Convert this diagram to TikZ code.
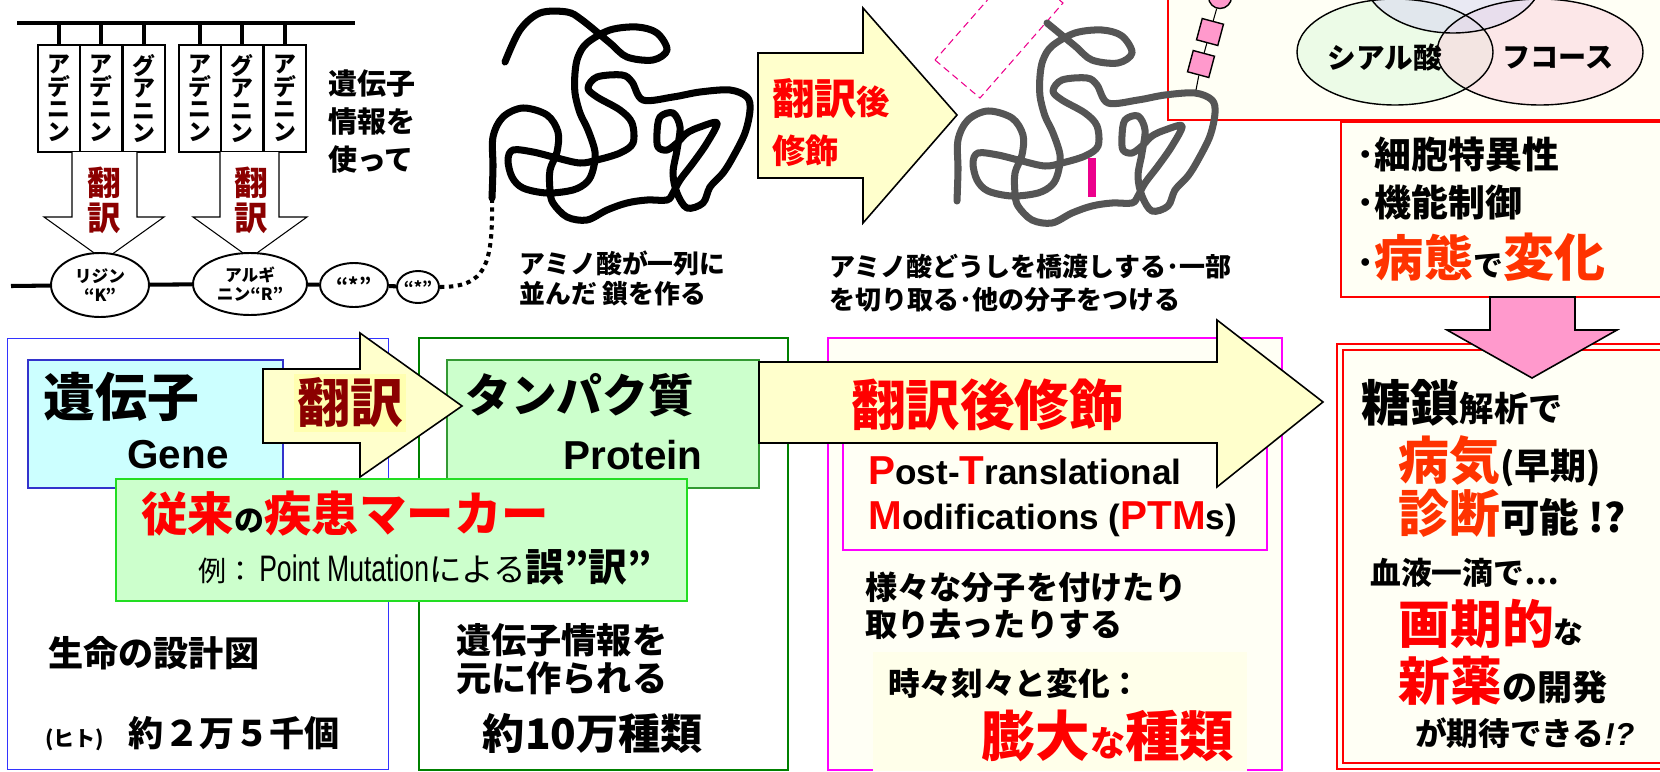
\documentclass[tikz,border=0pt]{standalone}
\usepackage{fontspec}
\setmainfont{Noto Sans CJK JP}
\newfontfamily\latinfont{Liberation Sans}
\newfontfamily\narrowfont[FakeStretch=0.72]{Liberation Sans}
\usetikzlibrary{shapes.geometric,positioning,calc}

\definecolor{arrowyellow}{HTML}{FFFFCC}
\definecolor{labelyellow}{HTML}{FFFFB0}
\definecolor{genefill}{HTML}{CCFFFF}
\definecolor{genedraw}{HTML}{3333CC}
\definecolor{geneouter}{HTML}{3333FF}
\definecolor{protfill}{HTML}{CCFFCC}
\definecolor{protdraw}{HTML}{339933}
\definecolor{protouter}{HTML}{008000}
\definecolor{markerdraw}{HTML}{22DD22}
\definecolor{ptmdraw}{HTML}{FF00FF}
\definecolor{cream}{HTML}{FFFFF5}
\definecolor{hugefill}{HTML}{FFFFEA}
\definecolor{glycan}{HTML}{FF99CC}
\definecolor{darkred}{HTML}{8B0000}
\definecolor{hotred}{HTML}{FF0000}
\definecolor{orangered}{HTML}{FF3300}
\definecolor{chaingray}{HTML}{555555}
\definecolor{mintfill}{HTML}{DDF8DD}
\definecolor{pinkfill}{HTML}{FAD4DE}
\definecolor{lilacfill}{HTML}{D8D8F2}

\newcommand{\fsz}[2]{\fontsize{#1pt}{#2pt}\selectfont}
\newcommand{\aden}{ア\\デ\\ニ\\ン}
\newcommand{\guan}{グ\\ア\\ニ\\ン}

% folded chain, whole
\newcommand{\chainfull}{plot[smooth, tension=0.55] coordinates {
  (492,198) (493,167) (493,137) (503,117) (523,108) (547,115) (558,132)
  (557,152) (550,170) (550,190) (553,203) (567,217) (587,220) (607,210)
  (627,203) (647,200) (667,200) (673,193) (680,180) (693,163) (707,143)
  (717,123) (700,127) (687,133) (677,143) (667,150) (658,147) (657,133)
  (660,117) (673,113) (680,127) (677,150) (673,173) (677,193) (687,208)
  (703,203) (710,187) (723,173) (733,157) (745,133) (750,110) (747,97)
  (730,90) (700,92) (673,97) (643,100) (632,82) (622,75) (597,77) (588,88)
  (597,97) (620,110) (632,123) (633,143) (620,153) (597,160) (580,163)
  (557,158) (533,152) (513,150) (508,160) (512,177) (523,188) (547,193)
  (573,190) (587,182) (593,170) (595,152) (588,130) (580,113) (575,93)
  (575,73) (578,57) (587,43) (610,30) (637,27) (657,33) (667,50) (653,60)
  (627,57) (610,43) (582,20) (567,12) (540,13) (520,30) (505,62)}}
% folded chain, end cut off
\newcommand{\chainbody}{plot[smooth, tension=0.55] coordinates {
  (492,198) (493,167) (493,137) (503,117) (523,108) (547,115) (558,132)
  (557,152) (550,170) (550,190) (553,203) (567,217) (587,220) (607,210)
  (627,203) (647,200) (667,200) (673,193) (680,180) (693,163) (707,143)
  (717,123) (700,127) (687,133) (677,143) (667,150) (658,147) (657,133)
  (660,117) (673,113) (680,127) (677,150) (673,173) (677,193) (687,208)
  (703,203) (710,187) (723,173) (733,157) (745,133) (750,110) (747,97)
  (730,90) (700,92) (673,97) (643,100) (632,82) (622,75) (597,77) (588,88)
  (597,97) (620,110) (632,123) (633,143) (620,153) (597,160) (580,163)
  (557,158) (533,152) (513,150) (508,160) (512,177) (523,188) (547,193)
  (573,190) (587,182) (593,170) (595,152) (588,130) (580,113) (575,93)
  (575,73) (578,57) (587,43) (610,30) (637,27) (657,33) (667,50) (653,60)
  (627,57) (610,43) (582,20)}}

\begin{document}
\begin{tikzpicture}[x=0.02cm, y=-0.02cm,
    cell/.style={rectangle, draw, fill=white, line width=0.6pt, minimum width=0.84cm, minimum height=2.14cm, inner sep=0pt, align=center, font=\bfseries\fsz{13}{12.8}},
    residue/.style={ellipse, draw, fill=white, line width=1.1pt, inner sep=0pt, align=center, font=\bfseries\fsz{9.5}{11}},
    downarrow/.style={draw, fill=white, line width=0.6pt},
    blockarrow/.style={draw, fill=arrowyellow, line width=0.9pt, line join=miter},
    chainline/.style={line width=4pt, line cap=round, line join=round},
    box/.style={rectangle, inner sep=0pt},
    redbox/.style={box, draw=hotred, fill=cream, line width=1.1pt},
    venn/.style={ellipse, fill opacity=0.55, inner sep=0pt},
    sugar/.style={rectangle, draw, fill=glycan, line width=0.8pt, minimum size=0.44cm, inner sep=0pt},
    txt/.style={anchor=west, inner sep=0pt, font=\bfseries},
    btxt/.style={anchor=base west, inner sep=0pt, font=\bfseries}
]
\useasboundingbox (0,0) rectangle (1660,771);

% Glycan sets
\node[redbox, minimum width=10.24cm, minimum height=2.8cm] (vennBox) at (1424,50) {};
\node[venn, fill=mintfill, minimum width=3.92cm, minimum height=2.12cm] (sialicSet) at (1395,52) {};
\node[venn, fill=pinkfill, minimum width=4.12cm, minimum height=2.12cm] (fucoseSet) at (1540,52) {};
\node[venn, fill=lilacfill, minimum width=3.6cm, minimum height=2.32cm] (topSet) at (1453,-25) {};
\draw[line width=0.8pt] (sialicSet.center) ellipse [x radius=98, y radius=53];
\draw[line width=0.8pt] (fucoseSet.center) ellipse [x radius=103, y radius=53];
\draw[line width=0.8pt] (topSet.center) ellipse [x radius=90, y radius=58];
\node[font=\bfseries\fsz{16.3}{16.3}] (sialic) at (1385,58) {シアル酸};
\node[font=\bfseries\fsz{16}{16}] (fucose) at (1558,58) {フコース};

% Traits
\node[redbox, minimum width=6.78cm, minimum height=3.5cm] (traitBox) at (1510.5,209.5) {};
\node[txt, font=\bfseries\fsz{21}{21}] (cellSpec) at (1356,155) {･細胞特異性};
\node[txt, font=\bfseries\fsz{21}{21}] (funcCtl) at (1356,202) {･機能制御};
\node[btxt] (disease) at (1356,276) {\fsz{21}{21}･\textcolor{orangered}{\fsz{28}{28}病態}\fsz{17}{17}で\textcolor{orangered}{\fsz{29}{29}変化}};

% Chains
\draw[chainline] \chainfull;
\draw[magenta, line width=0.6pt, dash pattern=on 4pt off 2.5pt] (935,60) -- (980,98) -- (1063,3) -- (1018,-35) -- cycle;
\draw[chainline, draw=chaingray, shift={(465,3)}] \chainbody;
\coordinate (link1) at (1092,158);
\coordinate (link2) at (1092,197);
\draw[magenta, line width=4.5pt] (link1) -- (link2);
\coordinate (glyStem) at (1196,90);
\node[sugar, rotate=-15] (glySq1) at (1201,64) {};
\node[sugar, rotate=-15] (glySq2) at (1210,32) {};
\node[sugar, circle, minimum size=0.46cm] (glyCirc) at (1220,-3) {};
\draw[line width=0.6pt] (glyStem) -- (glySq1) -- (glySq2) -- (glyCirc);

% Codons
\coordinate (barL) at (17,23);
\coordinate (barR) at (355,23);
\draw[line width=2.3pt] (barL) -- (barR);
\foreach \x/\base [count=\i] in {59/\aden, 101/\aden, 144/\guan, 200/\aden, 242/\guan, 285/\aden} {
  \node[cell] (c\i) at (\x,98.5) {\base};
  \draw[line width=2pt] (c\i.north) -- (c\i.north |- barL);
}

% Translation arrows
\draw[downarrow] (72,152) -- (72,217) -- (44,217) -- (104,260) -- (164,217) -- (137,217) -- (137,152);
\draw[downarrow] (220,152) -- (220,217) -- (193,217) -- (250,258) -- (307,217) -- (279,217) -- (279,152);
\node[align=center, text=darkred, font=\bfseries\fsz{19}{19.8}] (trans1) at (104,200) {翻\\訳};
\node[align=center, text=darkred, font=\bfseries\fsz{19}{19.8}] (trans2) at (251,200) {翻\\訳};

% Residues
\node[residue, minimum width=1.96cm, minimum height=1.28cm] (k) at (100,285) {リジン\\“K”};
\node[residue, minimum width=2.28cm, minimum height=1.24cm] (r) at (250,284) {アルギ\\ニン“R”};
\node[residue, minimum width=1.36cm, minimum height=0.88cm, font=\bfseries\fsz{11}{11}] (s1) at (354,285) {“*”};
\node[residue, minimum width=0.84cm, minimum height=0.64cm, font=\bfseries\fsz{9}{9}] (s2) at (418,287) {“*”};
\coordinate (pepL) at (11,286);
\coordinate (chainA) at (492,198);
\draw[line width=2.3pt] (pepL) -- (k) -- (r) -- (s1) -- (s2);
\draw[line width=2.3pt, dash pattern=on 2.5pt off 2.6pt] (s2.east) .. controls (486,287) and (493,265) .. (chainA);

\node[txt, align=left, font=\bfseries\fsz{16.5}{21.8}] (useInfo) at (328,121.5) {遺伝子\\情報を\\使って};
\node[txt, align=left, font=\bfseries\fsz{14.7}{17}] (chainText) at (519,278) {アミノ酸が一列に\\並んだ 鎖を作る};
\node[txt, align=left, font=\bfseries\fsz{14.8}{18.7}] (modText) at (829,283) {アミノ酸どうしを橋渡しする･一部\\を切り取る･他の分子をつける};

% Modification arrow (top)
\draw[blockarrow] (758,53) -- (863,53) -- (863,8) -- (957,115) -- (863,223) -- (863,178) -- (758,178) -- cycle;
\node[btxt, text=hotred] (ptmTop1) at (772,114) {\fsz{24}{24}翻訳\fsz{19}{19}後};
\node[btxt, text=hotred] (ptmTop2) at (772,163) {\fsz{19}{19}修飾};

% Panels
\node[box, draw=geneouter, line width=0.6pt, minimum width=7.64cm, minimum height=8.64cm] (geneOuter) at (198,554) {};
\node[box, draw=protouter, line width=1.3pt, minimum width=7.38cm, minimum height=8.64cm] (protOuter) at (603.5,554) {};
\node[box, draw=ptmdraw, fill=cream, line width=1.3pt, minimum width=9.08cm, minimum height=8.64cm] (ptmOuter) at (1055,554) {};
\node[redbox, line width=1.6pt, minimum width=6.86cm, minimum height=8.5cm] (hopeOuter) at (1508.5,556.5) {};
\node[box, draw=hotred, line width=1.1pt, minimum width=6.74cm, minimum height=8.26cm] (hopeInner) at (1511.5,556.5) {};
\node[box, fill=hugefill, minimum width=7.48cm, minimum height=2.38cm] (hugeBg) at (1060,711.5) {};
\node[box, draw=ptmdraw, line width=1.1pt, minimum width=8.48cm, minimum height=2.6cm] (ptmInner) at (1055,485) {};

% Gene
\node[box, draw=genedraw, fill=genefill, line width=1.3pt, minimum width=5.1cm, minimum height=2.56cm] (geneBox) at (155.5,424) {};
\node[txt, font=\bfseries\fsz{29.5}{30}] (geneJa) at (43,397) {遺伝子};
\node[font=\latinfont\bfseries\fsz{23}{23}] (geneEn) at (178,455) {Gene};
\node[txt, font=\bfseries\fsz{20}{20}] (blueprint) at (48,653) {生命の設計図};
\node[btxt] (geneCount) at (45,746) {\fsz{12}{12}(ヒト)\hspace{14pt}\fsz{20}{20}約２万５千個};

% Protein
\node[box, draw=protdraw, fill=protfill, line width=1.3pt, minimum width=6.24cm, minimum height=2.56cm] (protBox) at (603,424) {};
\node[txt, font=\bfseries\fsz{26}{26}] (protJa) at (465,395) {タンパク質};
\node[font=\latinfont\bfseries\fsz{23}{23}] (protEn) at (633,455) {Protein};
\node[txt, align=left, font=\bfseries\fsz{20}{21.5}] (protOrigin) at (456,659) {遺伝子情報を\\元に作られる};
\node[font=\bfseries\fsz{24}{24}] (protCount) at (593,733) {約10万種類};

% Translation arrow
\draw[blockarrow] (263,369) -- (360,369) -- (360,333) -- (462,406) -- (360,477) -- (360,443) -- (263,443) -- cycle;
\node[fill=labelyellow, inner sep=2pt, text=darkred, font=\bfseries\fsz{30}{30}] (transLbl) at (350,403) {翻訳};

% Conventional markers
\node[box, draw=markerdraw, fill=protfill, line width=1.4pt, minimum width=11.42cm, minimum height=2.44cm] (markerBox) at (401.5,540) {};
\node[btxt] (markerHead) at (141,531) {\textcolor{hotred}{\fsz{26.5}{27}従来}\fsz{17}{17}の\textcolor{hotred}{\fsz{27}{27}疾患マーカー}};
\node[btxt, font=\mdseries] (markerEx) at (198,581) {\fsz{16}{16}例：\,{\narrowfont\fsz{21}{21}Point Mutation}\fsz{18.5}{18.5}による{\bfseries\fsz{22}{22}誤”訳”}};

% PTM arrow and panel
\draw[blockarrow] (759,362) -- (1217,362) -- (1217,320) -- (1323,402) -- (1217,487) -- (1217,443) -- (759,443) -- cycle;
\node[txt, text=hotred, font=\bfseries\fsz{31}{31}] (ptmJa) at (851,405) {翻訳後修飾};
\node[txt, align=left, font=\latinfont\bfseries\fsz{20}{25.5}] (ptmEn) at (868,497) {\textcolor{hotred}{\fsz{23}{25.5}P}ost-\textcolor{hotred}{\fsz{23}{25.5}T}ranslational\\\textcolor{hotred}{\fsz{23}{25.5}M}odifications (\textcolor{hotred}{\fsz{23}{25.5}PTM}s)};
\node[txt, align=left, font=\bfseries\fsz{18.3}{21.5}] (ptmDesc) at (865,606) {様々な分子を付けたり\\取り去ったりする};
\node[txt, font=\bfseries\fsz{18}{18}] (ptmChange) at (888,683) {時々刻々と変化：};
\node[btxt, text=hotred] (ptmHuge) at (981,756) {\fsz{31}{31}膨大\fsz{20}{20}な\fsz{31}{31}種類};

% Outlook
\node[btxt] (glycoLbl) at (1361,421) {\fsz{28}{28}糖鎖\fsz{19.5}{19.5}解析で};
\node[btxt] (diagLbl1) at (1398,479) {\textcolor{orangered}{\fsz{29}{29}病気}\fsz{20.5}{20.5}(早期)};
\node[btxt] (diagLbl2) at (1398,532) {\textcolor{orangered}{\fsz{29}{29}診断}\fsz{22.5}{22.5}可能 !?};
\node[txt, font=\bfseries\fsz{17.5}{17.5}] (bloodLbl) at (1370,573) {血液一滴で…};
\node[btxt] (drugLbl1) at (1398,643) {\textcolor{hotred}{\fsz{29.5}{29.5}画期的}\fsz{17}{17}な};
\node[btxt] (drugLbl2) at (1398,700) {\textcolor{hotred}{\fsz{29.5}{29.5}新薬}\fsz{20}{20}の開発};
\node[txt, font=\bfseries\fsz{18}{18}] (expectLbl) at (1415,733) {が期待できる{\latinfont\bfseries\itshape !?}};

% Down arrow
\draw[blockarrow, fill=glycan] (1490,297) -- (1575,297) -- (1575,330) -- (1617,330) -- (1532,378) -- (1447,330) -- (1490,330) -- cycle;

\end{tikzpicture}
\end{document}
